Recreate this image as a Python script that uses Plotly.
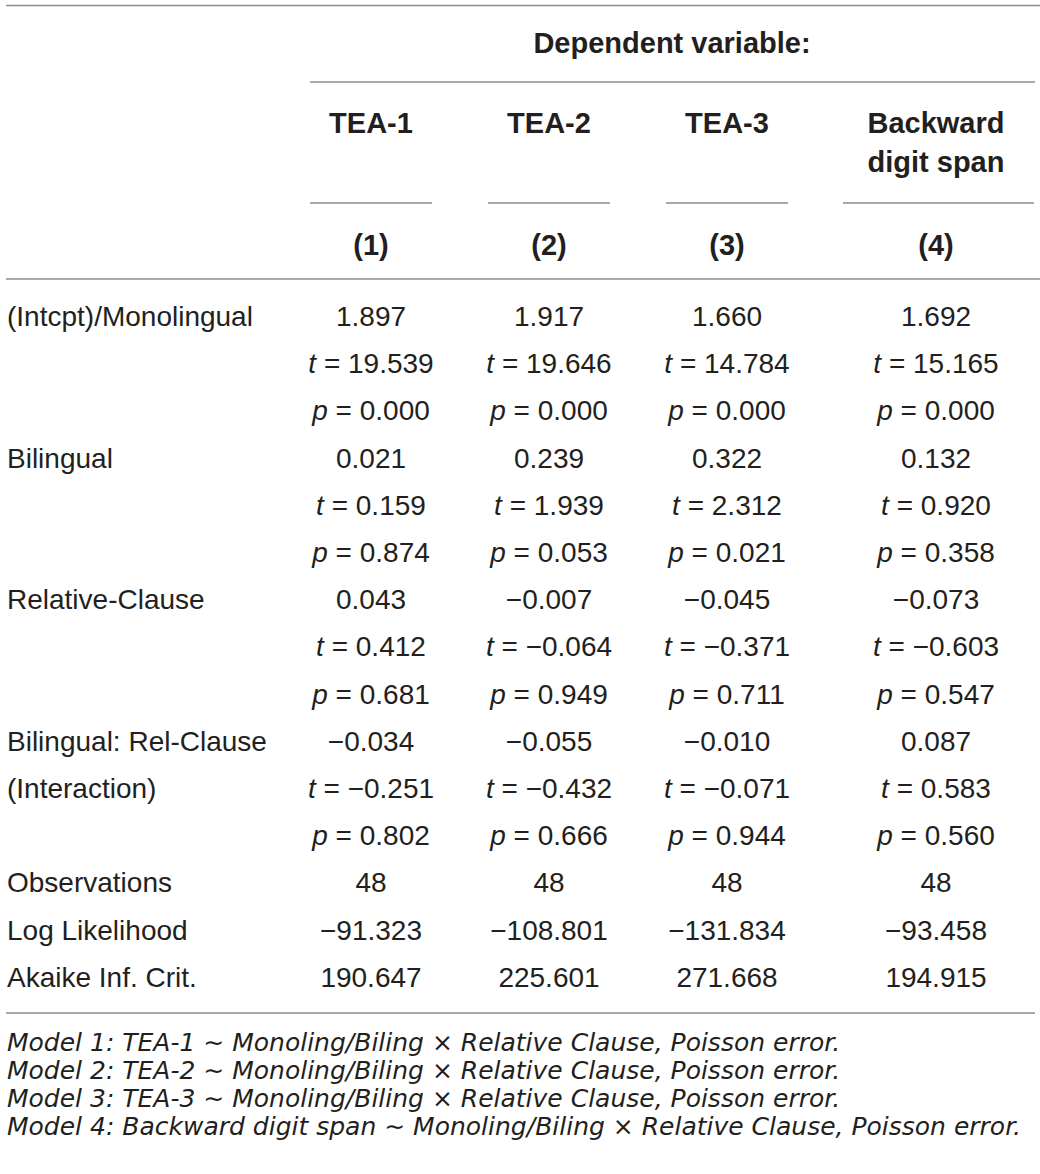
import plotly.graph_objects as go

# regression table: four Poisson models
models = ["TEA-1", "TEA-2", "TEA-3", "Backward"]
models_line2 = ["", "", "", "digit span"]
model_nums = ["(1)", "(2)", "(3)", "(4)"]
terms = ["(Intcpt)/Monolingual", "Bilingual", "Relative-Clause", "Bilingual: Rel-Clause"]
term_extra = {3: "(Interaction)"}

coef = [
    [1.897, 0.021, 0.043, -0.034],
    [1.917, 0.239, -0.007, -0.055],
    [1.660, 0.322, -0.045, -0.010],
    [1.692, 0.132, -0.073, 0.087],
]
t_val = [
    [19.539, 0.159, 0.412, -0.251],
    [19.646, 1.939, -0.064, -0.432],
    [14.784, 2.312, -0.371, -0.071],
    [15.165, 0.920, -0.603, 0.583],
]
p_val = [
    [0.000, 0.874, 0.681, 0.802],
    [0.000, 0.053, 0.949, 0.666],
    [0.000, 0.021, 0.711, 0.944],
    [0.000, 0.358, 0.547, 0.560],
]
stat_names = ["Observations", "Log Likelihood", "Akaike Inf. Crit."]
observations = [48, 48, 48, 48]
log_lik = [-91.323, -108.801, -131.834, -93.458]
aic = [190.647, 225.601, 271.668, 194.915]

notes = [
    "Model 1: TEA-1 \u223c Monoling/Biling × Relative Clause, Poisson error.",
    "Model 2: TEA-2 \u223c Monoling/Biling × Relative Clause, Poisson error.",
    "Model 3: TEA-3 \u223c Monoling/Biling × Relative Clause, Poisson error.",
    "Model 4: Backward digit span \u223c Monoling/Biling × Relative Clause, Poisson error.",
]

W, H = 1040, 1174
FONT = "Liberation Sans, Arial, sans-serif"
NOTE_FONT = "DejaVu Sans, sans-serif"
INK = "#231f20"
RULE = "#8c8c8c"
col_x = [371, 549, 727, 936]
col_spans = [(310, 432), (488, 610), (666, 788), (843, 1034)]
label_x = 7
row0, row_step = 319, 47.2


def fmt(v):
    return f"{v:.3f}".replace("-", "\u2212")


def text_trace(x, y, text, size, pos="middle center", family=FONT):
    return go.Scatter(x=x, y=y, text=text, mode="text", textposition=pos,
                      textfont=dict(family=family, size=size, color=INK),
                      hoverinfo="skip", showlegend=False, cliponaxis=False)


# build the body, row by row
labels, cells = [], [[] for _ in models]
for i, term in enumerate(terms):
    labels += [term, term_extra.get(i, ""), ""]
    for m in range(len(models)):
        cells[m] += [fmt(coef[m][i]),
                     "<i>t</i> = " + fmt(t_val[m][i]),
                     "<i>p</i> = " + fmt(p_val[m][i])]
labels += stat_names
for m in range(len(models)):
    cells[m] += [str(observations[m]), fmt(log_lik[m]), fmt(aic[m])]
row_y = [row0 + row_step * k for k in range(len(labels))]

fig = go.Figure()
fig.add_trace(text_trace([label_x] * len(labels), row_y, labels, 28, "middle right"))
for m in range(len(models)):
    fig.add_trace(text_trace([col_x[m]] * len(cells[m]), row_y, cells[m], 28))

# header
fig.add_trace(text_trace([(col_spans[0][0] + col_spans[-1][1]) / 2], [46],
                         ["<b>Dependent variable:</b>"], 29))
fig.add_trace(text_trace(col_x, [126] * 4, [f"<b>{m}</b>" for m in models], 29))
fig.add_trace(text_trace(col_x, [165] * 4, [f"<b>{m}</b>" for m in models_line2], 29))
fig.add_trace(text_trace(col_x, [248] * 4, [f"<b>{n}</b>" for n in model_nums], 29))

# footnotes
fig.add_trace(text_trace([label_x] * len(notes), [1045 + 28 * k for k in range(len(notes))],
                         [f"<i>{n}</i>" for n in notes], 25, "middle right", NOTE_FONT))

# rules
rules = [(6, W, 5.5), (310, 1035, 82), (6, W, 279), (6, 1035, 1013)]
rules += [(a, b, 203) for a, b in col_spans]
for x0, x1, y in rules:
    fig.add_shape(type="line", x0=x0, x1=x1, y0=y, y1=y,
                  line=dict(color=RULE, width=1.6))

fig.update_xaxes(range=[0, W], visible=False, fixedrange=True)
fig.update_yaxes(range=[H, 0], visible=False, fixedrange=True)
fig.update_layout(
    width=W, height=H, margin=dict(l=0, r=0, t=0, b=0),
    paper_bgcolor="white", plot_bgcolor="white",
)

# drop the default body margin so the figure sits at the page origin
fig.write_html("out.html", config={"displayModeBar": False},
               post_script="document.body.style.margin='0';")
